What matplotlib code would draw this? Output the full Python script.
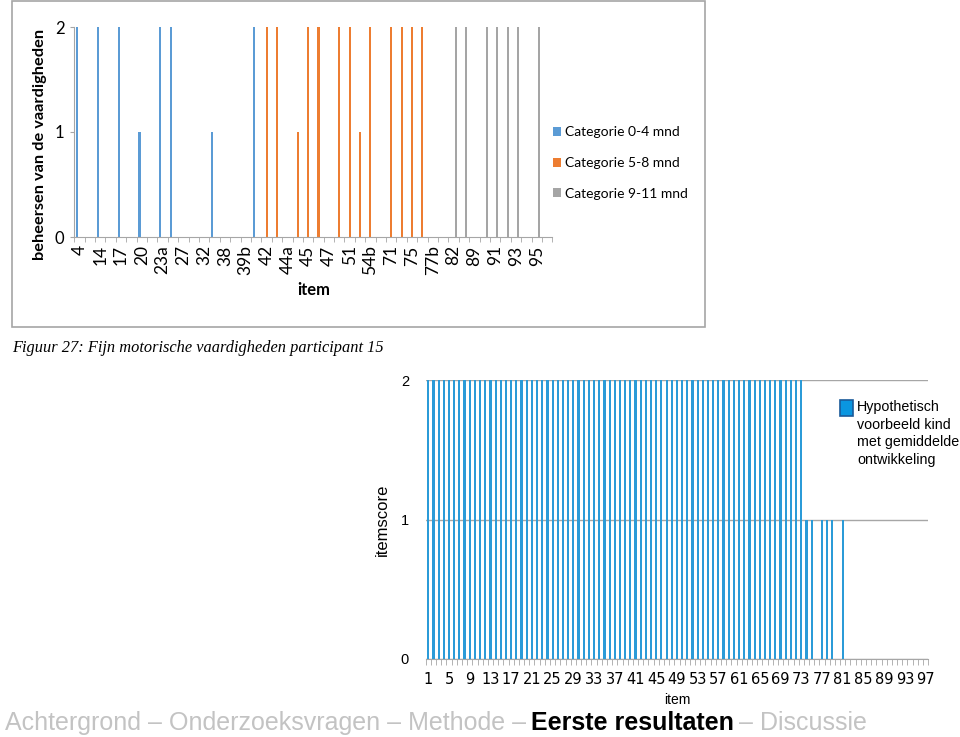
import numpy as np
import matplotlib
matplotlib.use("Agg")
import matplotlib.pyplot as plt
from matplotlib.patches import Rectangle
from matplotlib.ticker import FixedLocator, MultipleLocator

W, H = 960, 737

# --- top chart (figure 27): 46 item slots, every other one labelled ---
top_labels = ['4', '14', '17', '20', '23a', '27', '32', '38', '39b', '42', '44a', '45',
              '47', '51', '54b', '71', '75', '77b', '82', '89', '91', '93', '95']
cat_0_4 = [2, 0, 2, 0, 2, 0, 1, 0, 2, 2, 0, 0, 0, 1, 0, 0, 0, 2, 0, 0, 0, 0, 0,
           0, 0, 0, 0, 0, 0, 0, 0, 0, 0, 0, 0, 0, 0, 0, 0, 0, 0, 0, 0, 0, 0, 0]
cat_5_8 = [0, 0, 0, 0, 0, 0, 0, 0, 0, 0, 0, 0, 0, 0, 0, 0, 0, 0, 2, 2, 0, 1, 2,
           2, 0, 2, 2, 1, 2, 0, 2, 2, 2, 2, 0, 0, 0, 0, 0, 0, 0, 0, 0, 0, 0, 0]
cat_9_11 = [0, 0, 0, 0, 0, 0, 0, 0, 0, 0, 0, 0, 0, 0, 0, 0, 0, 0, 0, 0, 0, 0, 0,
            0, 0, 0, 0, 0, 0, 0, 0, 0, 0, 0, 0, 0, 2, 2, 0, 2, 2, 2, 2, 0, 2, 0]
top_series = ['Categorie 0-4 mnd', 'Categorie 5-8 mnd', 'Categorie 9-11 mnd']
top_colors = ['#5b9bd5', '#ed7d31', '#a5a5a5']

# --- bottom chart: hypothetical child, items 1..97 ---
items = np.arange(1, 98)
hypo_scores = [2, 2, 2, 2, 2, 2, 2, 2, 2, 2, 2, 2, 2, 2, 2, 2, 2, 2, 2, 2,
               2, 2, 2, 2, 2, 2, 2, 2, 2, 2, 2, 2, 2, 2, 2, 2, 2, 2, 2, 2,
               2, 2, 2, 2, 2, 2, 2, 2, 2, 2, 2, 2, 2, 2, 2, 2, 2, 2, 2, 2,
               2, 2, 2, 2, 2, 2, 2, 2, 2, 2, 2, 2, 2, 1, 1, 0, 1, 1, 1, 0,
               1, 0, 0, 0, 0, 0, 0, 0, 0, 0, 0, 0, 0, 0, 0, 0, 0]
bottom_ticks = list(range(1, 98, 4))
hypo_label = 'Hypothetisch\nvoorbeeld kind\nmet gemiddelde\nontwikkeling'

fig = plt.figure(figsize=(9.6, 7.37), dpi=100)
fig.patch.set_facecolor('white')

def box(x0, y0, x1, y1):
    return [x0 / W, 1 - y1 / H, (x1 - x0) / W, (y1 - y0) / H]

# frame around the pasted figure
fig.add_artist(Rectangle((12 / W, 1 - 327 / H), 693 / W, 326 / H, transform=fig.transFigure,
                         fill=False, edgecolor='#a6a6a6', lw=1.2))

ax1 = fig.add_axes(box(74.3, 27, 552.3, 237))
x = np.arange(len(cat_0_4))
bw = 1 / 4.5
for i, (vals, col) in enumerate(zip([cat_0_4, cat_5_8, cat_9_11], top_colors)):
    ax1.bar(x + (i - 1) * bw, vals, width=0.2, color=col, label=top_series[i])
ax1.set_xlim(-0.5, len(x) - 0.5)
ax1.set_ylim(0, 2)
ax1.set_yticks([0, 1, 2])
ax1.set_xticks(x[::2])
ax1.set_xticklabels(top_labels, rotation=90, family='Lato', fontsize=12.5)
ax1.xaxis.set_minor_locator(FixedLocator(np.arange(-0.5, len(x), 1)))
ax1.tick_params(axis='x', which='major', length=0, pad=6)
ax1.tick_params(axis='x', which='minor', length=3.5, color='#a6a6a6', direction='out')
ax1.tick_params(axis='y', length=3, color='#a6a6a6', pad=4, labelsize=12)
for lab in ax1.get_yticklabels():
    lab.set_family('Lato')
for s in ['top', 'right']:
    ax1.spines[s].set_visible(False)
for s in ['left', 'bottom']:
    ax1.spines[s].set_color('#a6a6a6')
ax1.legend(loc='center left', bbox_to_anchor=(540 / W, 1 - 163 / H),
           bbox_transform=fig.transFigure, frameon=False, prop={'family': 'Lato', 'size': 10},
           handlelength=0.6, handleheight=0.6, handletextpad=0.3, labelspacing=1.35)

fig.text(40 / W, 1 - 144 / H, 'beheersen van de vaardigheden', rotation=90, ha='center',
         va='center', family='Lato', weight='bold', fontsize=11.8)
fig.text(314 / W, 1 - 290 / H, 'item', ha='center', va='center', family='Lato',
         weight='bold', fontsize=12)
fig.text(12 / W, 1 - 348 / H, 'Figuur 27: Fijn motorische vaardigheden participant 15',
         ha='left', va='center', family='Liberation Serif', style='italic', fontsize=11.8)

# bottom chart
ax2 = fig.add_axes(box(425.7, 380, 928.2, 659))
ax2.bar(items, hypo_scores, width=0.42, color='#2b9bd8', zorder=3)
ax2.set_xlim(0.5, 97.5)
ax2.set_ylim(0, 2)
ax2.set_yticks([0, 1, 2])
ax2.set_xticks(bottom_ticks)
ax2.xaxis.set_minor_locator(MultipleLocator(1, offset=0.5))
ax2.grid(axis='y', color='#a6a6a6', lw=1, zorder=0)
ax2.tick_params(axis='x', which='major', length=0, pad=9, labelsize=10.5)
ax2.tick_params(axis='x', which='minor', length=4, color='#a6a6a6')
ax2.tick_params(axis='y', length=0, pad=12, labelsize=10.5)
for lab in ax2.get_yticklabels():
    lab.set_family('Liberation Sans')
for s in ['top', 'right', 'left']:
    ax2.spines[s].set_visible(False)
ax2.spines['bottom'].set_color('#a6a6a6')
ax2.set_xlabel('item', family='Liberation Sans', fontsize=10, labelpad=5)
ax2.set_ylabel('itemscore', family='Liberation Sans', fontsize=12, labelpad=8)

# legend of the bottom chart, drawn by hand so the box sits next to the first line
fig.add_artist(Rectangle((840 / W, 1 - 416 / H), 13 / W, 16 / H, transform=fig.transFigure,
                         facecolor='#0a96e0', edgecolor='#1a5a9a', lw=1.2))
fig.text(857 / W, 1 - 400 / H, hypo_label, ha='left', va='top', family='Liberation Sans',
         fontsize=10.3, linespacing=1.32)

# slide footer
fig.text(5 / W, 1 - 730 / H, 'Achtergrond \u2013 Onderzoeksvragen \u2013 Methode \u2013',
         ha='left', va='baseline', family='Liberation Sans', fontsize=18, color='#c3c3c3')
fig.text(531 / W, 1 - 730 / H, 'Eerste resultaten', ha='left', va='baseline',
         family='Liberation Sans', fontsize=18, weight='bold', color='black')
fig.text(739 / W, 1 - 730 / H, '\u2013 Discussie', ha='left', va='baseline',
         family='Liberation Sans', fontsize=18, color='#c3c3c3')

fig.savefig('out.png', dpi=100)
